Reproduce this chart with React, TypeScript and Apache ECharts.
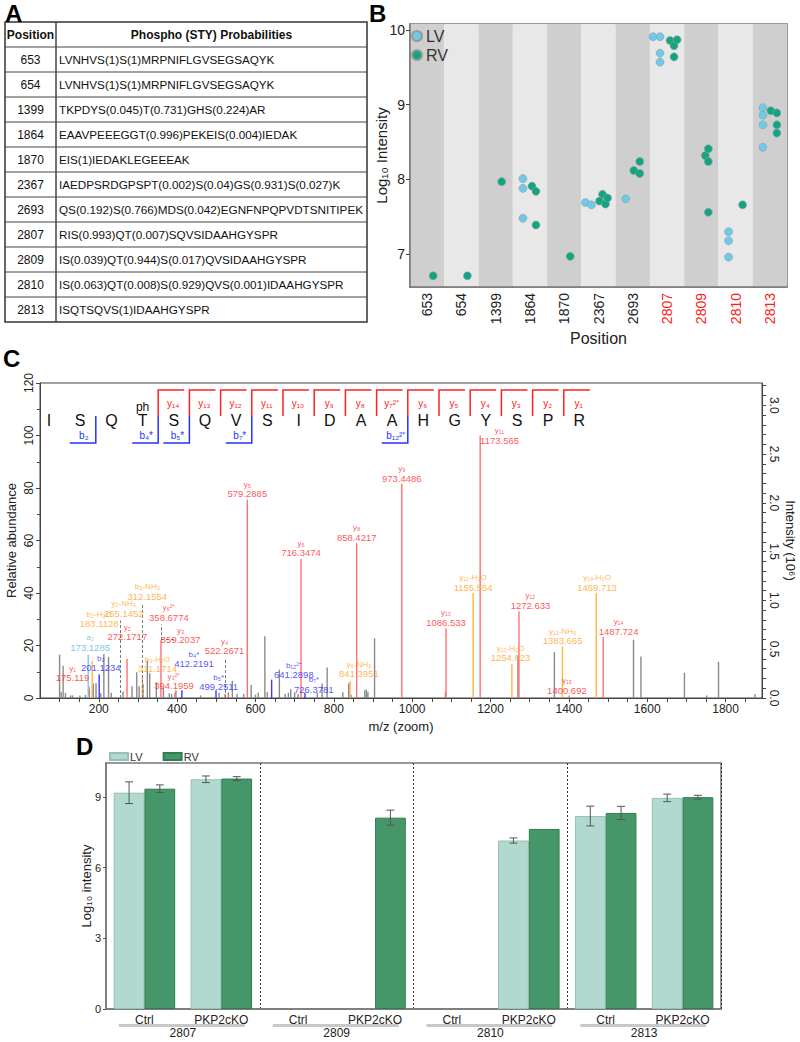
import React, { useEffect, useRef } from "react";
import * as echarts from "echarts";

const FONT = "'Liberation Sans', Arial, Helvetica, sans-serif";

// ---------------- Panel A : table ----------------
const tableHeader = ["Position", "Phospho (STY) Probabilities"];
const tablePositions = ["653", "654", "1399", "1864", "1870", "2367", "2693", "2807", "2809", "2810", "2813"];
const tableSequences = [
  "LVNHVS(1)S(1)MRPNIFLGVSEGSAQYK",
  "LVNHVS(1)S(1)MRPNIFLGVSEGSAQYK",
  "TKPDYS(0.045)T(0.731)GHS(0.224)AR",
  "EAAVPEEEGGT(0.996)PEKEIS(0.004)IEDAK",
  "EIS(1)IEDAKLEGEEEAK",
  "IAEDPSRDGPSPT(0.002)S(0.04)GS(0.931)S(0.027)K",
  "QS(0.192)S(0.766)MDS(0.042)EGNFNPQPVDTSNITIPEK",
  "RIS(0.993)QT(0.007)SQVSIDAAHGYSPR",
  "IS(0.039)QT(0.944)S(0.017)QVSIDAAHGYSPR",
  "IS(0.063)QT(0.008)S(0.929)QVS(0.001)IDAAHGYSPR",
  "ISQTSQVS(1)IDAAHGYSPR",
];

// ---------------- Panel B : dot plot ----------------
const bPositions = ["653", "654", "1399", "1864", "1870", "2367", "2693", "2807", "2809", "2810", "2813"];
const bRedFromIndex = 7;
const bYTicks = [7, 8, 9, 10];
const bLV: number[][] = [[], [], [], [8.01, 7.88, 7.48], [], [7.69, 7.66], [7.74], [9.91, 9.91, 9.69, 9.57], [], [7.3, 7.18, 6.96], [8.96, 8.86, 8.73, 8.43]];
const bRV: number[][] = [[6.71], [6.71], [7.97], [7.91, 7.84, 7.39], [6.97], [7.71, 7.8, 7.67, 7.75], [8.12, 8.24, 8.08], [9.86, 9.87, 9.79, 9.64], [8.32, 8.41, 8.24, 7.56], [7.66], [8.92, 8.89, 8.73, 8.62]];
// beeswarm offsets (px) of each point from its category centre
const bLVSwarm: number[][] = [[], [], [], [-7, -7, -7], [], [-13, -7], [-7], [-14, -7, -7, -7], [], [-7, -7, -7], [-7, -7, -7, -7]];
const bRVSwarm: number[][] = [[6], [6], [6], [2, 6, 6], [6], [1, 4, 7, 9], [1, 7, 7], [3, 10, 7, 7], [4, 7, 7, 7], [7], [1, 7, 7, 7]];

// ---------------- Panel C : MS/MS spectrum ----------------
const ladderResidues = ["I", "S", "Q", "T", "S", "Q", "V", "S", "I", "D", "A", "A", "H", "G", "Y", "S", "P", "R"];
const yLadderAfter = [3, 4, 5, 6, 7, 8, 9, 10, 11, 12, 13, 14, 15, 16];
const yLadderNames = ["y₁₄", "y₁₃", "y₁₂", "y₁₁", "y₁₀", "y₉", "y₈", "y₇²⁺", "y₆", "y₅", "y₄", "y₃", "y₂", "y₁"];
const bLadderAfter = [1, 3, 4, 6, 11];
const bLadderNames = ["b₂", "b₄*", "b₅*", "b₇*", "b₁₂²⁺"];
const phosphoSiteIndex = 3;

const cXLabels = [200, 400, 600, 800, 1000, 1200, 1400, 1600, 1800];
const cXTicks = [100, 150, 200, 250, 300, 350, 400, 450, 500, 550, 600, 650, 700, 750, 800, 850, 900, 950, 1000, 1050, 1100, 1150, 1200, 1250, 1300, 1350, 1400, 1450, 1500, 1550, 1600, 1650, 1700, 1750, 1800, 1850];
const cRightLabels = [0, 0.5, 1, 1.5, 2, 2.5, 3];
const cRightTicks = [0, 0.1, 0.2, 0.3, 0.4, 0.5, 0.6, 0.7, 0.8, 0.9, 1, 1.1, 1.2, 1.3, 1.4, 1.5, 1.6, 1.7, 1.8, 1.9, 2, 2.1, 2.2, 2.3, 2.4, 2.5, 2.6, 2.7, 2.8, 2.9, 3, 3.1, 3.2];
const intensityAt100 = 2.69; // 10^6 counts at 100 % relative abundance

const grayPeaks: [number, number][] = [
  [100, 16.5], [104, 2.2], [109, 12.3], [115, 2], [128, 1], [133, 1], [152, 1], [166, 1.2], [176, 3.5], [186, 5.5], [193, 5.6],
  [205, 1.8], [213, 16.8], [225, 15.6], [232, 2], [262, 2.5], [285, 4.5], [297, 9.8], [303, 4.5], [313, 5.4], [324, 14.3],
  [330, 9.4], [347, 6], [365, 4], [380, 1.8], [386, 1.5], [397, 3], [460, 1], [507, 2], [531, 2.2], [541, 6.5], [553, 1.5],
  [570, 1.5], [589, 5], [600, 1.2], [607, 2], [624, 23.5], [630, 2.2], [661, 10.8], [676, 1.5], [684, 2], [690, 3.3], [700, 2.2],
  [709, 1.5], [758, 2], [770, 5.5], [783, 11.6], [823, 2.2], [838, 5.6], [844, 1.2], [879, 3], [883, 3.3], [887, 2.4], [904, 22.8],
  [1085, 2.3], [1270, 16.2], [1363, 17.5], [1565, 22.2], [1584, 15.8], [1695, 9.6], [1752, 1], [1782, 13.8], [1875, 1.5],
];
const yIonPeaks: [number, number][] = [
  [175.1, 4.5], [272.2, 15], [358.7, 22], [394.2, 2], [522.3, 1.5], [579.3, 75.5], [716.3, 53], [858.4, 59], [973.4, 81.5],
  [1086.5, 26.5], [1173.6, 100], [1272.6, 33], [1400.7, 1], [1487.7, 23.2],
];
const neutralLossPeaks: [number, number][] = [
  [183.1, 14], [311.2, 8], [841.4, 6.5], [1155.6, 40], [1254.6, 13], [1383.7, 19.5], [1469.7, 40],
];
const bIonPeaks: [number, number][] = [[201.1, 9], [412.2, 3], [499.3, 3], [641.3, 7], [726.4, 2]];
const aIonPeaks: [number, number][] = [[173.1, 16.5]];

const dashedConnectors: [number, number][][] = [
  [[255.1, 0], [255.1, 29.5]],
  [[312.2, 0], [312.2, 36]],
  [[358.7, 22], [358.7, 28]],
  [[359.2, 22.5], [395, 22.5]],
  [[522.3, 0], [522.3, 15.3]],
];

const ionLabelNames = ["y₁", "a₂", "b₂-H₂O", "b₂", "y₂-NH₃", "y₂", "b₃-NH₃", "y₆²⁺", "y₃", "b₃-H₂O", "y₃²⁺", "b₄*", "y₄", "b₅*", "y₅", "b₁₂²⁺", "y₆", "b₇*", "y₆-NH₃", "y₈", "y₉", "y₁₀", "y₁₁-H₂O", "y₁₁", "y₁₂-H₂O", "y₁₂", "y₁₃-NH₃", "y₁₃", "y₁₄-H₂O", "y₁₄"];
const ionLabelMz = ["175.119", "173.1285", "183.1128", "201.1234", "255.1452", "272.1717", "312.1554", "358.6774", "359.2037", "311.1714", "394.1959", "412.2191", "522.2671", "499.2511", "579.2885", "641.2898", "716.3474", "726.3781", "841.3951", "858.4217", "973.4486", "1086.533", "1155.554", "1173.565", "1254.623", "1272.633", "1383.665", "1400.692", "1469.713", "1487.724"];
const ionLabelKinds = ["y", "a", "n", "b", "n", "y", "n", "y", "y", "n", "y", "b", "y", "b", "y", "b", "y", "b", "n", "y", "y", "y", "n", "y", "n", "y", "n", "y", "n", "y"];
// where each label sits (m/z, relative abundance of its bottom edge)
const ionLabelAnchors: [number, number][] = [
  [133, 5.5], [178, 17], [201, 26], [205, 9.3], [264, 30], [273, 21], [324, 36.5], [379, 28.5], [409, 20], [350, 8.8],
  [392, 2.3], [443, 10.7], [521, 15.8], [506, 2], [579.3, 75.5], [698, 6.6], [716.3, 53], [749, 1.1], [864, 7], [858.4, 59],
  [973.4, 81.5], [1086.5, 26.5], [1155.6, 40], [1223, 96], [1251, 13], [1302, 33], [1384, 19.5], [1395, 0.6], [1472, 40], [1527, 23.2],
];

// ---------------- Panel D : bar chart ----------------
const dGroups = ["2807", "2809", "2810", "2813"];
const dConditions = ["Ctrl", "PKP2cKO"];
const dYTicks = [0, 3, 6, 9];
const dLV = [9.18, 9.75, 0, 0, 0, 7.15, 8.19, 8.96];
const dRV = [9.35, 9.78, 0, 8.12, 0, 7.64, 8.32, 8.99];
const dLVsd = [0.46, 0.14, 0, 0, 0, 0.11, 0.42, 0.16];
const dRVsd = [0.16, 0.08, 0, 0.32, 0, 0, 0.28, 0.08];

// ---------------- colours ----------------
const C_LV_B = "#6ccbe8";
const C_RV_B = "#10a683";
const C_LV_D = "#b2d9d0";
const C_RV_D = "#45976a";
const kindLine: Record<string, string> = { y: "#ff7070", n: "#ffb340", b: "#3a3aff", a: "#7ac8ee" };
const kindText: Record<string, string> = { y: "#ff2a2a", n: "#ffa21a", b: "#2525ff", a: "#55b8e8" };

function buildOption(): any {
  const g: any[] = [];
  const letter = (t: string, x: number, y: number) => ({
    type: "text", x, y, z: 50,
    style: { text: t, font: `bold 24px ${FONT}`, fill: "#000", align: "left", verticalAlign: "top" },
  });
  g.push(letter("A", 5, 1), letter("B", 369, 1), letter("C", 3, 346), letter("D", 76, 734));

  // ---- table ----
  const tL = 5, tR = 367, tDiv = 56, tTop = 22, rowH = 25;
  const nRows = tablePositions.length + 1;
  g.push({ type: "rect", shape: { x: tL, y: tTop, width: tR - tL, height: rowH * nRows }, style: { fill: "#fff", stroke: "#333", lineWidth: 1.5 } });
  for (let i = 1; i < nRows; i++) {
    g.push({ type: "line", shape: { x1: tL, y1: tTop + rowH * i, x2: tR, y2: tTop + rowH * i }, style: { stroke: "#444", lineWidth: 1 } });
  }
  g.push({ type: "line", shape: { x1: tDiv, y1: tTop, x2: tDiv, y2: tTop + rowH * nRows }, style: { stroke: "#444", lineWidth: 1.5 } });
  g.push({ type: "text", x: (tL + tDiv) / 2, y: tTop + rowH / 2, style: { text: tableHeader[0], font: `bold 12px ${FONT}`, fill: "#111", align: "center", verticalAlign: "middle" } });
  g.push({ type: "text", x: (tDiv + tR) / 2, y: tTop + rowH / 2, style: { text: tableHeader[1], font: `bold 12px ${FONT}`, fill: "#111", align: "center", verticalAlign: "middle" } });
  tablePositions.forEach((p, i) => {
    const cy = tTop + rowH * (i + 1.5);
    g.push({ type: "text", x: (tL + tDiv) / 2, y: cy, style: { text: p, font: `12px ${FONT}`, fill: "#111", align: "center", verticalAlign: "middle" } });
    g.push({ type: "text", x: tDiv + 3, y: cy, style: { text: tableSequences[i], font: `11.7px ${FONT}`, fill: "#111", align: "left", verticalAlign: "middle" } });
  });

  // ---- fragment ladder (panel C) ----
  const LX0 = 49, LSTEP = 31.2, LY = 420, LTOP = 390, LMID = 416, LBOT = 443, LLEN = 26;
  ladderResidues.forEach((r, i) => {
    g.push({ type: "text", x: LX0 + LSTEP * i, y: LY, z: 60, style: { text: r, font: `16px ${FONT}`, fill: "#111", align: "center", verticalAlign: "middle" } });
  });
  g.push({ type: "text", x: LX0 + LSTEP * phosphoSiteIndex, y: 407, z: 60, style: { text: "ph", font: `12px ${FONT}`, fill: "#111", align: "center", verticalAlign: "middle" } });
  yLadderAfter.forEach((k, j) => {
    const gx = LX0 + LSTEP * (k + 0.5);
    g.push({ type: "polyline", z: 60, shape: { points: [[gx, LMID], [gx, LTOP], [gx + LLEN, LTOP]] }, style: { stroke: "#ff2020", lineWidth: 1.5, fill: "none" } });
    g.push({ type: "text", x: gx + 15, y: 403, z: 60, style: { text: yLadderNames[j], font: `10px ${FONT}`, fill: "#ff2020", align: "center", verticalAlign: "middle" } });
  });
  bLadderAfter.forEach((k, j) => {
    const gx = LX0 + LSTEP * (k + 0.5);
    g.push({ type: "polyline", z: 60, shape: { points: [[gx, LMID], [gx, LBOT], [gx - LLEN, LBOT]] }, style: { stroke: "#2233ff", lineWidth: 1.5, fill: "none" } });
    g.push({ type: "text", x: gx - 12, y: 435, z: 60, style: { text: bLadderNames[j], font: `10px ${FONT}`, fill: "#2233ff", align: "center", verticalAlign: "middle" } });
  });

  // ---- panel D group underline bars ----
  const dLeft = 106, dWidth = 615;
  const gw = dWidth / dGroups.length;
  dGroups.forEach((_, i) => {
    g.push({ type: "rect", shape: { x: dLeft + gw * i + 13, y: 1024, width: gw - 28, height: 3 }, style: { fill: "#c8c8c8" } });
  });

  // ---- data for series ----
  const bScatter = (vals: number[][], sw: number[][]) =>
    vals.flatMap((arr, ci) => arr.map((v, k) => ({ value: [ci, v], symbolOffset: [sw[ci][k], 0] })));

  const dXLabels = dGroups.flatMap(() => dConditions);
  const dBars = (vals: number[]) => vals.map((v) => (v === 0 ? { value: 0, itemStyle: { borderWidth: 0 } } : v));

  const labelData = ionLabelNames.map((n, i) => ({
    value: ionLabelAnchors[i],
    label: { color: kindText[ionLabelKinds[i]], formatter: `{n|${n}}\n{m|${ionLabelMz[i]}}` },
  }));

  const errSeries = (vals: number[], sds: number[], side: number) => ({
    type: "custom", xAxisIndex: 2, yAxisIndex: 3, z: 10, silent: true,
    data: vals.map((v, i) => [i, v, sds[i]]),
    renderItem: (_p: any, api: any) => {
      const i = api.value(0), v = api.value(1), sd = api.value(2);
      if (!sd) return null;
      const w = api.size([1, 0])[0];
      const cx = api.coord([i, v])[0] + side * w * 0.2;
      const yt = api.coord([i, v + sd])[1];
      const yb = api.coord([i, v - sd])[1];
      const st = { stroke: "#555", lineWidth: 1 };
      return {
        type: "group",
        children: [
          { type: "line", shape: { x1: cx, y1: yt, x2: cx, y2: yb }, style: st },
          { type: "line", shape: { x1: cx - 4, y1: yt, x2: cx + 4, y2: yt }, style: st },
          { type: "line", shape: { x1: cx - 4, y1: yb, x2: cx + 4, y2: yb }, style: st },
        ],
      };
    },
  });

  const peakSeries = (name: string, data: [number, number][], color: string, extra: any = {}) => ({
    type: "bar", name, xAxisIndex: 1, yAxisIndex: 1, data, barWidth: 1.4, barGap: "-100%",
    itemStyle: { color }, silent: true, ...extra,
  });

  const axisText = { color: "#222", fontFamily: FONT };
  const fixedGrid = { containLabel: false, outerBoundsMode: "none" };

  return {
    animation: false,
    backgroundColor: "#fff",
    textStyle: { fontFamily: FONT },
    graphic: { elements: g },
    legend: [
      {
        data: ["LV", "RV"], left: 411, top: 28, padding: 0, orient: "vertical", icon: "circle",
        itemWidth: 10, itemHeight: 10, itemGap: 3, selectedMode: false,
        textStyle: { fontSize: 16, color: "#333", fontFamily: FONT, padding: [0, 0, 0, -1] },
      },
      {
        data: ["LV\u200b", "RV\u200b"], left: 109, top: 751, padding: 0, orient: "horizontal", icon: "rect",
        itemWidth: 18, itemHeight: 7, itemGap: 20, selectedMode: false,
        formatter: (n: string) => n.replace("\u200b", ""),
        textStyle: { fontSize: 11, color: "#333", fontFamily: FONT, padding: [0, 0, 0, -3] },
      },
    ],
    grid: [
      { ...fixedGrid, left: 410, top: 24, width: 377, height: 263, show: true, borderColor: "#777", borderWidth: 1.5, backgroundColor: "transparent" },
      { ...fixedGrid, left: 40, top: 383, width: 722, height: 315, show: true, borderColor: "#444", borderWidth: 1 },
      { ...fixedGrid, left: dLeft, top: 763, width: dWidth, height: 246, show: true, borderColor: "#777", borderWidth: 1.5 },
    ],
    xAxis: [
      {
        type: "category", gridIndex: 0, data: bPositions, boundaryGap: true,
        axisLine: { lineStyle: { color: "#777", width: 1.5 } },
        axisTick: { alignWithLabel: true, length: 4, lineStyle: { color: "#444" } },
        axisLabel: { ...axisText, rotate: 90, fontSize: 14, margin: 6, color: (_v: any, i: number) => (i >= bRedFromIndex ? "#ff1a1a" : "#222") },
        splitArea: { show: true, areaStyle: { color: ["#cfcfcf", "#e8e8e8"] } },
        name: "Position", nameLocation: "middle", nameGap: 43, nameTextStyle: { fontSize: 16, color: "#222" },
      },
      {
        type: "value", gridIndex: 1, min: 50, max: 1893,
        axisLine: { lineStyle: { color: "#444" } },
        axisTick: { customValues: cXTicks, length: 4, lineStyle: { color: "#444" } },
        axisLabel: { ...axisText, customValues: cXLabels, fontSize: 12, margin: 5, formatter: (v: number) => String(v) },
        splitLine: { show: false },
        name: "m/z (zoom)", nameLocation: "middle", nameGap: 22, nameTextStyle: { fontSize: 13, color: "#222" },
      },
      {
        type: "category", gridIndex: 2, data: dXLabels, boundaryGap: true,
        axisLine: { lineStyle: { color: "#777", width: 1.5 } },
        axisTick: { show: false },
        axisLabel: { ...axisText, fontSize: 12, margin: 5, interval: 0 },
        splitLine: { show: true, interval: (idx: number) => idx === 2 || idx === 4 || idx === 6, lineStyle: { type: [2, 2], color: "#333", width: 1 } },
      },
      {
        type: "category", gridIndex: 2, data: dGroups, position: "bottom", offset: 18, boundaryGap: true,
        axisLine: { show: false }, axisTick: { show: false },
        axisLabel: { ...axisText, fontSize: 12, margin: 0, interval: 0 },
        splitLine: { show: false },
      },
    ],
    yAxis: [
      {
        type: "value", gridIndex: 0, min: 6.56, max: 10.08,
        axisLine: { show: true, lineStyle: { color: "#777", width: 1.5 } },
        axisTick: { show: true, customValues: bYTicks, length: 4, lineStyle: { color: "#444" } },
        axisLabel: { ...axisText, customValues: bYTicks, fontSize: 14, margin: 5 },
        splitLine: { show: false },
        name: "Log₁₀ Intensity", nameLocation: "middle", nameRotate: 90, nameGap: 21, nameMoveOverlap: false,
        nameTextStyle: { fontSize: 15, color: "#222" },
      },
      {
        type: "value", gridIndex: 1, min: 0, max: 120, interval: 20,
        axisLine: { show: true, lineStyle: { color: "#444" } },
        axisTick: { show: true, length: 4, lineStyle: { color: "#444" } },
        minorTick: { show: true, splitNumber: 2, length: 3, lineStyle: { color: "#444" } },
        axisLabel: { ...axisText, rotate: 90, fontSize: 12, margin: 5 },
        splitLine: { show: false },
        name: "Relative abundance", nameLocation: "middle", nameRotate: 90, nameGap: 22, nameMoveOverlap: false,
        nameTextStyle: { fontSize: 13, color: "#222" },
      },
      {
        type: "value", gridIndex: 1, min: 0, max: (120 * intensityAt100) / 100, position: "right",
        axisLine: { show: true, lineStyle: { color: "#444" } },
        axisTick: { show: true, customValues: cRightTicks, length: 4, lineStyle: { color: "#444" } },
        axisLabel: { ...axisText, customValues: cRightLabels, rotate: -90, fontSize: 12, margin: 6, formatter: (v: number) => v.toFixed(1) },
        splitLine: { show: false },
        name: "Intensity (10⁶)", nameLocation: "middle", nameRotate: -90, nameGap: 22, nameMoveOverlap: false,
        nameTextStyle: { fontSize: 13, color: "#222" },
      },
      {
        type: "value", gridIndex: 2, min: 0, max: 10.44,
        axisLine: { show: true, lineStyle: { color: "#777", width: 1.5 } },
        axisTick: { show: true, customValues: dYTicks, length: 3, lineStyle: { color: "#555" } },
        axisLabel: { ...axisText, customValues: dYTicks, fontSize: 11, margin: 5 },
        splitLine: { show: false },
        name: "Log₁₀ intensity", nameLocation: "middle", nameRotate: 90, nameGap: 13, nameMoveOverlap: false,
        nameTextStyle: { fontSize: 13, color: "#222" },
      },
    ],
    series: [
      {
        type: "scatter", name: "LV", xAxisIndex: 0, yAxisIndex: 0, symbolSize: 8, z: 5,
        itemStyle: { color: C_LV_B, borderColor: "#9a9a9a", borderWidth: 0.6, opacity: 1 },
        data: bScatter(bLV, bLVSwarm),
      },
      {
        type: "scatter", name: "RV", xAxisIndex: 0, yAxisIndex: 0, symbolSize: 8, z: 5,
        itemStyle: { color: C_RV_B, borderColor: "#9a9a9a", borderWidth: 0.6, opacity: 1 },
        data: bScatter(bRV, bRVSwarm),
      },
      peakSeries("unassigned", grayPeaks, "#8a8a8a", {
        markLine: {
          silent: true, symbol: ["none", "none"], label: { show: false },
          lineStyle: { type: [3, 2], color: "#777", width: 1 },
          data: dashedConnectors.map(([a, b]) => [{ coord: a }, { coord: b }]),
        },
      }),
      peakSeries("y ions", yIonPeaks, kindLine.y),
      peakSeries("neutral loss", neutralLossPeaks, kindLine.n),
      peakSeries("b ions", bIonPeaks, kindLine.b),
      peakSeries("a ions", aIonPeaks, kindLine.a),
      {
        type: "scatter", name: "ion labels", xAxisIndex: 1, yAxisIndex: 1, symbolSize: 0, silent: true, z: 20,
        data: labelData,
        label: {
          show: true, position: "top", distance: 1, align: "center", fontFamily: FONT,
          rich: { n: { fontSize: 8, lineHeight: 9, fontFamily: FONT }, m: { fontSize: 9.5, lineHeight: 10, fontFamily: FONT } },
        },
      },
      {
        type: "bar", name: "LV\u200b", xAxisIndex: 2, yAxisIndex: 3, data: dBars(dLV), barGap: "0%", barCategoryGap: "20%",
        itemStyle: { color: C_LV_D, borderColor: "#95c1b6", borderWidth: 1 },
      },
      {
        type: "bar", name: "RV\u200b", xAxisIndex: 2, yAxisIndex: 3, data: dBars(dRV), barGap: "0%", barCategoryGap: "20%",
        itemStyle: { color: C_RV_D, borderColor: "#2f7d52", borderWidth: 1 },
      },
      errSeries(dLV, dLVsd, -1),
      errSeries(dRV, dRVsd, 1),
    ],
  };
}

export default function App() {
  const ref = useRef<HTMLDivElement>(null);
  useEffect(() => {
    if (!ref.current) return;
    const chart = echarts.init(ref.current, null, { renderer: "svg" });
    chart.setOption(buildOption());
    return () => chart.dispose();
  }, []);
  return <div ref={ref} style={{ position: "absolute", left: 0, top: 0, width: 800, height: 1042 }} />;
}
